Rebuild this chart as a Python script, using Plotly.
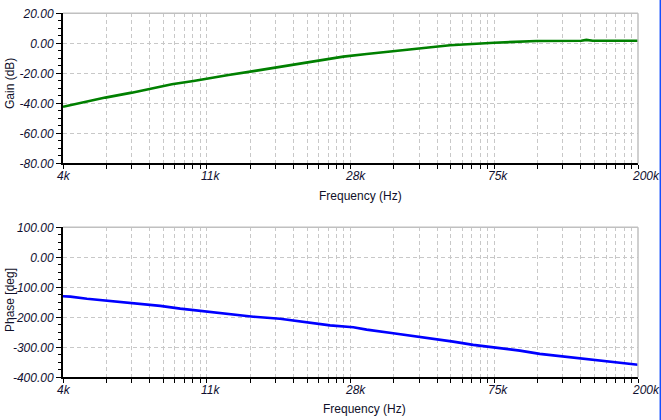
import math
import plotly.graph_objects as go

# ---- data ----
gain_freq = [4000, 5333, 6391, 7325, 8389, 9719, 10520, 12330, 14780, 16930, 19170,
             22470, 26930, 31570, 37830, 45360, 55630, 75170, 100200, 136000, 140800, 147000, 200000]
gain_db = [-42.3, -36.2, -32.9, -30.0, -27.3, -25.1, -23.6, -21.1, -18.4, -16.2, -14.0,
           -11.8, -8.9, -7.1, -5.1, -3.3, -1.3, 0.4, 1.5, 1.7, 2.3, 1.7, 1.7]

phase_freq = [4000, 4204, 4709, 5644, 6616, 7751, 8880, 10170, 11650, 14610, 17510, 21000,
              24610, 28820, 31570, 37830, 45360, 56880, 65170, 76400, 89520, 102500,
              120100, 140800, 168800, 200000]
phase_deg = [-130, -131, -138, -146, -153, -162, -171, -179, -187, -198, -205, -216,
             -227, -233, -241, -253, -265, -281, -292, -301, -311, -322,
             -331, -340, -350, -358]

x_tick_vals = [4000, 10637, 28284, 75212, 200000]
x_tick_text = ["4k", "11k", "28k", "75k", "200k"]

gain_tick_vals = [20, 0, -20, -40, -60, -80]
gain_tick_text = ["20.00", "0.00", "-20.00", "-40.00", "-60.00", "-80.00"]
phase_tick_vals = [100, 0, -100, -200, -300, -400]
phase_tick_text = ["100.00", "0.00", "-100.00", "-200.00", "-300.00", "-400.00"]

W, H = 661, 420
X0, X1 = 63, 638
TOP = (13.3, 163.3)
BOT = (227.3, 377.3)

# minor grid positions: each major interval split like a decade
minor_vals = []
for i in range(4):
    a, b = math.log10(x_tick_vals[i]), math.log10(x_tick_vals[i + 1])
    for k in range(2, 10):
        minor_vals.append(10 ** (a + (b - a) * math.log10(k)))

def ydom(pair):
    return [1 - pair[1] / H, 1 - pair[0] / H]

fig = go.Figure()
fig.add_trace(go.Scatter(x=gain_freq, y=gain_db, mode="lines",
                         line=dict(color="#008000", width=2.6), xaxis="x", yaxis="y",
                         showlegend=False))
fig.add_trace(go.Scatter(x=phase_freq, y=phase_deg, mode="lines",
                         line=dict(color="#0000ff", width=2.6), xaxis="x2", yaxis="y2",
                         showlegend=False))

grid_col = "#c8c8c8"
tickfont = dict(family="Liberation Sans, Arial", size=12, color="#101030", style="italic")

def xaxis_cfg(anchor):
    return dict(type="log", range=[math.log10(4000), math.log10(200000)],
                domain=[X0 / W, X1 / W], anchor=anchor, automargin=False,
                tickvals=x_tick_vals, ticktext=x_tick_text, showticklabels=False,
                ticks="outside", ticklen=4, tickwidth=1, tickcolor="black",
                showgrid=True, gridcolor=grid_col, griddash="4px,3px", gridwidth=1,
                showline=True, linecolor="black", linewidth=2, zeroline=False,
                minor=dict(tickvals=minor_vals, ticks="outside", ticklen=4, tickcolor="black",
                           showgrid=True, gridcolor=grid_col, griddash="4px,3px", gridwidth=1),
                fixedrange=True)

def yaxis_cfg(anchor, rng, vals, text, dom, minor_dt):
    return dict(range=rng, domain=ydom(dom), anchor=anchor, automargin=False,
                tickvals=vals, ticktext=text, tickfont=tickfont,
                ticks="outside", ticklen=5, tickwidth=1, tickcolor="black",
                showgrid=True, gridcolor=grid_col, griddash="4px,3px", gridwidth=1,
                showline=True, linecolor="black", linewidth=2, zeroline=False,
                minor=dict(dtick=minor_dt, tick0=0, ticks="outside", ticklen=3,
                           tickcolor="black", showgrid=False),
                fixedrange=True)

fig.update_layout(
    width=W, height=H, autosize=False, template="none",
    margin=dict(l=0, r=0, t=0, b=0, pad=0),
    paper_bgcolor="white", plot_bgcolor="white", hovermode=False,
    xaxis=xaxis_cfg("y"),
    yaxis=yaxis_cfg("x", [-80, 20], gain_tick_vals, gain_tick_text, TOP, 5),
    xaxis2=xaxis_cfg("y2"),
    yaxis2=yaxis_cfg("x2", [-400, 100], phase_tick_vals, phase_tick_text, BOT, 25),
)

shapes = []
for xr, yr in (("x domain", "y domain"), ("x2 domain", "y2 domain")):
    shapes.append(dict(type="line", xref=xr, yref=yr, x0=0, x1=1, y0=1, y1=1,
                       line=dict(color="#c0c0c0", width=1.5)))
    shapes.append(dict(type="line", xref=xr, yref=yr, x0=1, x1=1, y0=0, y1=1,
                       line=dict(color="#c0c0c0", width=1.5)))
shapes.append(dict(type="line", xref="paper", yref="paper", x0=660.3 / W, x1=660.3 / W,
                   y0=0, y1=1, line=dict(color="#1450ff", width=1.5)))

annotations = []
for xa, ya in (("x", "y"), ("x2", "y2")):
    for v, t in zip(x_tick_vals, x_tick_text):
        annotations.append(dict(x=math.log10(v), y=0, xref=xa, yref=ya + " domain",
                                text=t, showarrow=False, xanchor="left", yanchor="top",
                                xshift=-8, yshift=-4, font=tickfont))

titlefont = dict(family="Liberation Sans, Arial", size=12, color="#10102a")
annotations.append(dict(x=360.3 / W, y=1 - 187 / H, xref="paper", yref="paper",
                        text="Frequency (Hz)", showarrow=False, xanchor="center",
                        yanchor="top", font=titlefont))
annotations.append(dict(x=364 / W, y=1 - 400 / H, xref="paper", yref="paper",
                        text="Frequency (Hz)", showarrow=False, xanchor="center",
                        yanchor="top", font=titlefont))
annotations.append(dict(x=10 / W, y=1 - 84 / H, xref="paper", yref="paper",
                        text="Gain (dB)", showarrow=False, xanchor="center",
                        yanchor="middle", textangle=-90, font=titlefont))
annotations.append(dict(x=10 / W, y=1 - 300 / H, xref="paper", yref="paper",
                        text="Phase [deg]", showarrow=False, xanchor="center",
                        yanchor="middle", textangle=-90, font=titlefont))

fig.update_layout(shapes=shapes, annotations=annotations)
fig.write_html("out.html",
               config={"displayModeBar": False, "staticPlot": True},
               post_script="document.body.style.margin='0px';"
                           "document.body.style.overflow='hidden';"
                           "document.documentElement.style.overflow='hidden';")
